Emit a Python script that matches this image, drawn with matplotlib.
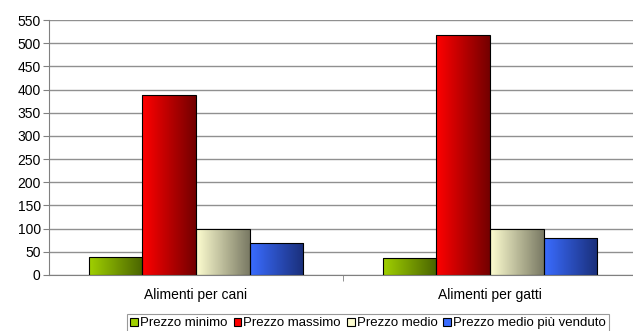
import numpy as np
import matplotlib.pyplot as plt
from matplotlib.colors import LinearSegmentedColormap
from matplotlib.patches import Patch

plt.rcParams['font.family'] = ['Liberation Sans', 'DejaVu Sans']

categories = ["Alimenti per cani", "Alimenti per gatti"]
series = ["Prezzo minimo", "Prezzo massimo", "Prezzo medio", "Prezzo medio più venduto"]
prezzo_minimo = [38, 36]
prezzo_massimo = [389, 518]
prezzo_medio = [100, 100]
prezzo_venduto = [70, 79]
values = [prezzo_minimo, prezzo_massimo, prezzo_medio, prezzo_venduto]

# light -> dark horizontal gradients
gradients = [("#a0d000", "#4a6400"), ("#ff0000", "#740000"),
             ("#fdfdd0", "#7a7a64"), ("#3a6cff", "#1a2f7a")]

fig = plt.figure(figsize=(6.33, 3.31), dpi=100)
ax = fig.add_axes([49 / 633, 1 - 275 / 331, 584 / 633, 255 / 331])

width = 0.182
x = np.arange(len(categories))
for i, (vals, (c0, c1)) in enumerate(zip(values, gradients)):
    cmap = LinearSegmentedColormap.from_list(f"g{i}", [c0, c1])
    pos = x + (i - 1.5) * width
    bars = ax.bar(pos, vals, width, facecolor="none", edgecolor="black", linewidth=0.8, zorder=3)
    for b in bars:
        grad = np.linspace(0, 1, 64).reshape(1, -1)
        im = ax.imshow(grad, cmap=cmap, aspect="auto", zorder=2.5,
                       extent=[b.get_x(), b.get_x() + b.get_width(), 0, b.get_height()])
        im.set_clip_path(b)

ax.set_xlim(-0.5, (633 - 49) / 294 - 0.5)
ax.set_ylim(0, 550)
ax.set_yticks(range(0, 551, 50))
ax.set_xticks(x)
ax.set_xticklabels(categories)
ax.set_xticks([0.5], minor=True)
ax.tick_params(axis="x", which="major", length=0, labelsize=10, pad=9)
ax.tick_params(axis="x", which="minor", length=4, color="#808080")
ax.tick_params(axis="y", labelsize=10, length=4, color="#808080", pad=2)
ax.grid(axis="y", color="#909090", linewidth=1, zorder=0)
ax.set_axisbelow(True)
for s in ["top", "right"]:
    ax.spines[s].set_visible(False)
for s in ["left", "bottom"]:
    ax.spines[s].set_color("#808080")

handles = [Patch(facecolor=c0, edgecolor="black", linewidth=0.8, label=s)
           for s, (c0, c1) in zip(series, gradients)]
leg = fig.legend(handles=handles, loc="lower left", bbox_to_anchor=(127 / 633, -0.005),
                 ncol=4, fontsize=9.5, frameon=True, fancybox=False, edgecolor="#808080",
                 handlelength=0.6, handleheight=0.6, handletextpad=0.15, columnspacing=0.45,
                 borderpad=0.25, borderaxespad=0)
leg.get_frame().set_linewidth(0.8)

fig.savefig("out.png", dpi=100)
